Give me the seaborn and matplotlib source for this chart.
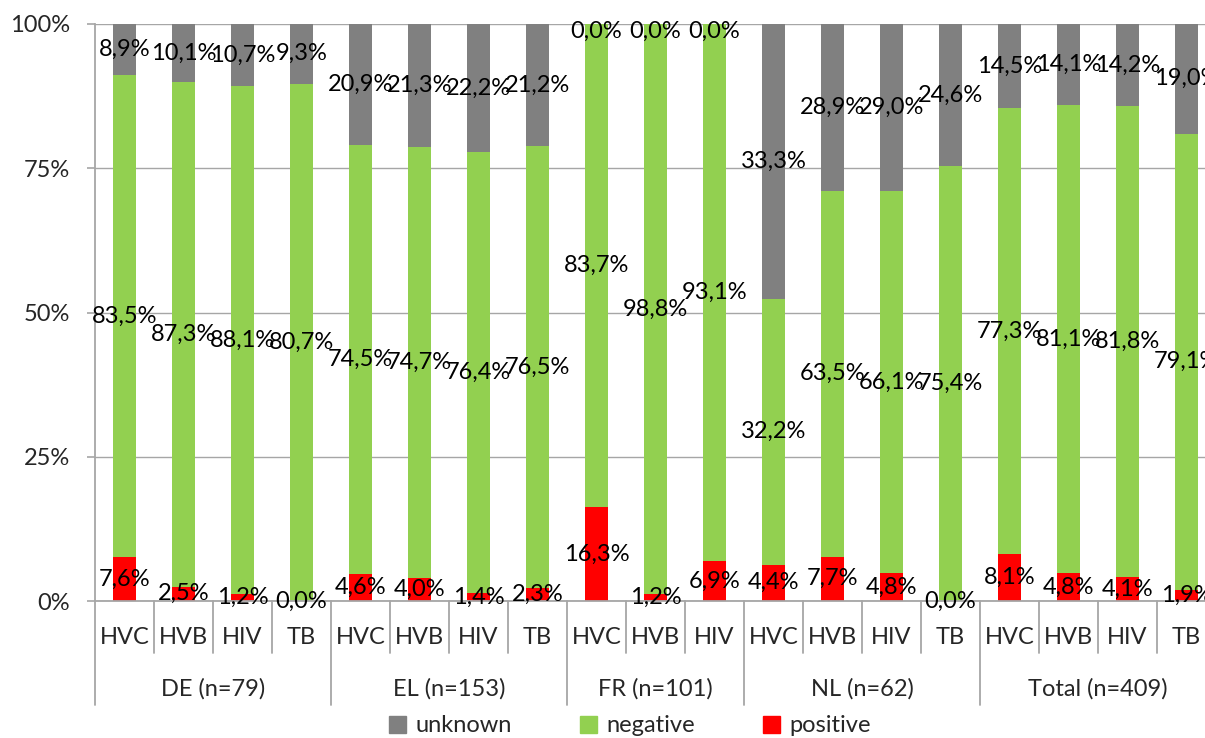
import pandas as pd
import matplotlib.pyplot as plt
import seaborn as sns
from matplotlib.patches import Patch

# Data (percentages as printed in the labels)
groups = ['DE (n=79)', 'EL (n=153)', 'FR (n=101)', 'NL (n=62)', 'Total (n=409)']
group_tests = [
    ['HVC', 'HVB', 'HIV', 'TB'],
    ['HVC', 'HVB', 'HIV', 'TB'],
    ['HVC', 'HVB', 'HIV'],
    ['HVC', 'HVB', 'HIV', 'TB'],
    ['HVC', 'HVB', 'HIV', 'TB'],
]
positive = [7.6, 2.5, 1.2, 0.0,
            4.6, 4.0, 1.4, 2.3,
            16.3, 1.2, 6.9,
            4.4, 7.7, 4.8, 0.0,
            8.1, 4.8, 4.1, 1.9]
negative = [83.5, 87.3, 88.1, 80.7,
            74.5, 74.7, 76.4, 76.5,
            83.7, 98.8, 93.1,
            32.2, 63.5, 66.1, 75.4,
            77.3, 81.1, 81.8, 79.1]
unknown = [8.9, 10.1, 10.7, 9.3,
           20.9, 21.3, 22.2, 21.2,
           0.0, 0.0, 0.0,
           33.3, 28.9, 29.0, 24.6,
           14.5, 14.1, 14.2, 19.0]

c_unk = '#808080'
c_neg = '#92d050'
c_pos = '#ff0000'
axis_grey = '#a6a6a6'

rows = []
for g, tests in zip(groups, group_tests):
    for t in tests:
        rows.append((g, t))
df = pd.DataFrame(rows, columns=['group', 'test'])
df['key'] = df['group'] + ' ' + df['test']
df['positive'] = positive
df['negative'] = negative
df['unknown'] = unknown

# 100% stacked: normalise each bar
total = df['positive'] + df['negative'] + df['unknown']
df['p_pos'] = df['positive'] / total * 100
df['p_neg'] = df['negative'] / total * 100
df['p_unk'] = df['unknown'] / total * 100
df['top_pos'] = df['p_pos']
df['top_neg'] = df['p_pos'] + df['p_neg']
df['top_unk'] = df['top_neg'] + df['p_unk']

sns.set_style('white')
plt.rcParams['font.family'] = ['Lato', 'DejaVu Sans']
fs = 17

W, H = 1205, 738
fig = plt.figure(figsize=(W / 100, H / 100), dpi=100)
# plot area: x 95..1216 px, y 24..601 px (right edge runs past the image)
ax = fig.add_axes([95 / W, 1 - 601 / H, (1216 - 95) / W, (601 - 24) / H])

bw = 0.39
sns.barplot(data=df, x='key', y='top_unk', color=c_unk, width=bw, saturation=1,
            errorbar=None, ax=ax, linewidth=0, zorder=2)
sns.barplot(data=df, x='key', y='top_neg', color=c_neg, width=bw, saturation=1,
            errorbar=None, ax=ax, linewidth=0, zorder=2)
sns.barplot(data=df, x='key', y='top_pos', color=c_pos, width=bw, saturation=1,
            errorbar=None, ax=ax, linewidth=0, zorder=2)

n = len(df)
ax.set_xlim(-0.5, n - 0.5)
ax.set_ylim(0, 100)
ax.set_xlabel('')
ax.set_ylabel('')

# value labels centred on each segment
def fmt(v):
    return f'{v:.1f}'.replace('.', ',') + '%'

for i, r in df.iterrows():
    segs = [(r['positive'], r['p_pos'] / 2),
            (r['negative'], r['p_pos'] + r['p_neg'] / 2),
            (r['unknown'], r['top_neg'] + r['p_unk'] / 2)]
    for val, yc in segs:
        yc = min(yc, 98.8)
        ax.text(i, yc, fmt(val), ha='center', va='center', fontsize=fs,
                color='black', zorder=5)

# y axis
ax.set_yticks([0, 25, 50, 75, 100])
ax.set_yticklabels(['0%', '25%', '50%', '75%', '100%'], fontsize=fs)
ax.tick_params(axis='y', length=6, width=1.2, color=axis_grey, pad=12, left=True)
ax.yaxis.grid(True, color=axis_grey, lw=1)
ax.set_axisbelow(True)
for s in ['top', 'right']:
    ax.spines[s].set_visible(False)
for s in ['left', 'bottom']:
    ax.spines[s].set_color(axis_grey)
    ax.spines[s].set_linewidth(1.3)

# multi-level category axis
ax.set_xticks([])
tr = ax.get_xaxis_transform()
y_short = -52 / 577
y_long = -104 / 577
y_cat = -36 / 577
y_grp = -88 / 577

bounds = [-0.5]
pos = 0
for tests in group_tests:
    pos += len(tests)
    bounds.append(pos - 0.5)

for i in range(n + 1):
    x = i - 0.5
    y1 = y_long if x in bounds else y_short
    ax.plot([x, x], [0, y1], color=axis_grey, lw=1.3, transform=tr, clip_on=False)

for i, t in enumerate(df['test']):
    ax.text(i, y_cat, t, ha='center', va='center', fontsize=fs, transform=tr)

for g, a, b in zip(groups, bounds[:-1], bounds[1:]):
    ax.text((a + b) / 2, y_grp, g, ha='center', va='center', fontsize=fs, transform=tr)

# legend
handles = [Patch(color=c_unk, label='unknown'),
           Patch(color=c_neg, label='negative'),
           Patch(color=c_pos, label='positive')]
fig.legend(handles=handles, loc='center', bbox_to_anchor=(630 / W, 1 - 726 / H),
           ncol=3, frameon=False, fontsize=fs, handlelength=0.7, handleheight=0.7,
           handletextpad=0.4, columnspacing=2.9)

plt.savefig('out.png', dpi=100)
